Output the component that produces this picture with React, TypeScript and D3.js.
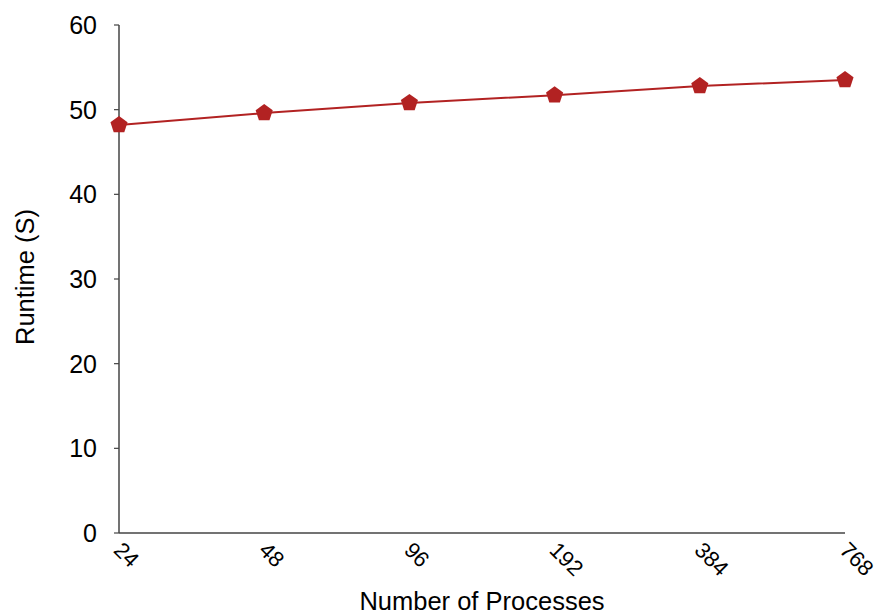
import React from "react";
import * as d3 from "d3";

const categories = ["24", "48", "96", "192", "384", "768"];
const runtimes = [48.2, 49.6, 50.8, 51.7, 52.8, 53.5];
const yTicks = [0, 10, 20, 30, 40, 50, 60];

const W = 883;
const H = 615;
const left = 119;
const right = 845;
const top = 25;
const bottom = 533;
const color = "#B22222";
const axisColor = "#444";
const font = "'Liberation Sans', Arial, Helvetica, sans-serif";

function pentagon(cx: number, cy: number, r: number) {
  const pts: [number, number][] = [];
  for (let i = 0; i < 5; i++) {
    const a = -Math.PI / 2 + (i * 2 * Math.PI) / 5;
    pts.push([cx + r * Math.cos(a), cy + r * Math.sin(a)]);
  }
  return "M" + pts.map((p) => p.join(",")).join("L") + "Z";
}

export default function App() {
  const x = d3.scalePoint<string>().domain(categories).range([left, right]).padding(0);
  const y = d3.scaleLinear().domain([0, 60]).range([bottom, top]);
  const line = d3
    .line<number>()
    .x((_, i) => x(categories[i]) as number)
    .y((d) => y(d));

  return (
    <svg width={W} height={H} style={{ position: "absolute", left: 0, top: 0 }} fontFamily={font}>
      <rect width={W} height={H} fill="#fff" />
      {/* Y axis */}
      <line x1={left} x2={left} y1={top} y2={bottom} stroke={axisColor} strokeWidth={1.5} />
      {yTicks.map((t) => (
        <g key={t}>
          <line x1={left - 5} x2={left} y1={y(t)} y2={y(t)} stroke={axisColor} strokeWidth={1.2} />
          <text x={97} y={y(t)} dy="0.36em" textAnchor="end" fontSize={25} fill="#000">
            {t}
          </text>
        </g>
      ))}
      {/* X axis */}
      <line x1={left} x2={right} y1={bottom} y2={bottom} stroke={axisColor} strokeWidth={1.5} />
      {categories.map((c) => {
        const px = x(c) as number;
        return (
          <text
            key={c}
            transform={`translate(${px - 1},${bottom + 13}) rotate(45)`}
            fontSize={22}
            fill="#000"
            dy="0.35em"
            textAnchor="start"
          >
            {c}
          </text>
        );
      })}
      <text x={482} y={610} textAnchor="middle" fontSize={25.5} fill="#000">
        Number of Processes
      </text>
      <text
        transform={`translate(34,277) rotate(-90)`}
        textAnchor="middle"
        fontSize={25.5}
        fill="#000"
      >
        Runtime (S)
      </text>
      {/* Series */}
      <path d={line(runtimes) || ""} fill="none" stroke={color} strokeWidth={2} />
      {runtimes.map((v, i) => (
        <path key={i} d={pentagon(x(categories[i]) as number, y(v), 9)} fill={color} />
      ))}
    </svg>
  );
}
